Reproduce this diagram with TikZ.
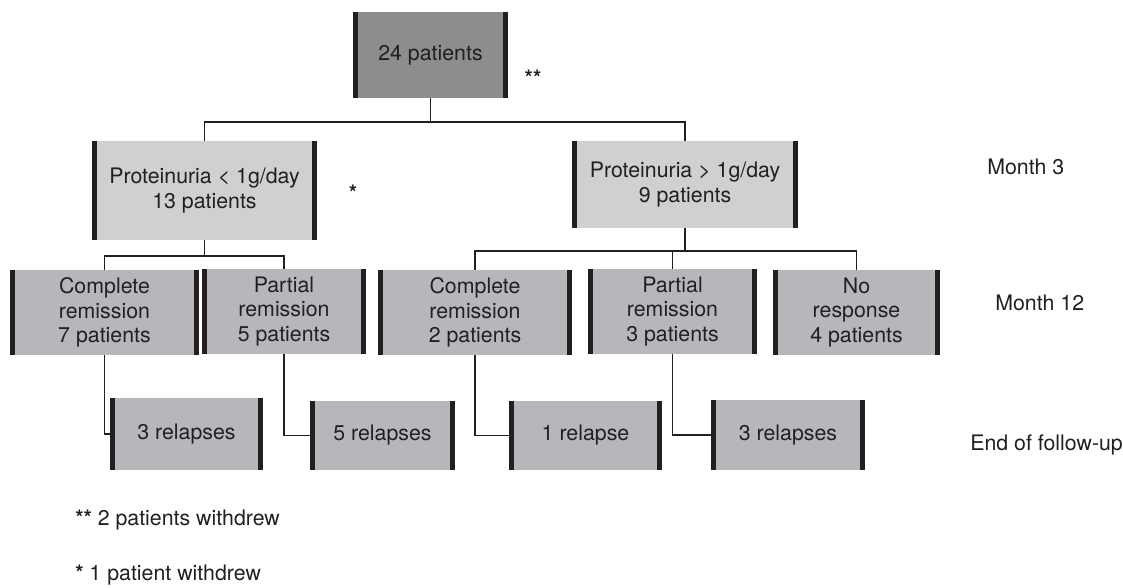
\documentclass[tikz,border=0pt]{standalone}
\usepackage{fontspec}
\setmainfont{TeX Gyre Heros}
\usepackage{tikz}
\definecolor{ink}{RGB}{35, 31, 32}
\definecolor{darkbox}{RGB}{140, 141, 143}
\definecolor{lightbox}{RGB}{207, 208, 210}
\definecolor{midbox}{RGB}{182, 183, 186}

\begin{document}
\begin{tikzpicture}[x=0.75pt, y=-0.75pt,
    box/.style={fill=#1, inner sep=0pt, align=center, text=ink, font=\fontsize{16}{18.5}\selectfont},
    link/.style={draw=ink, line width=1.1pt},
    bar/.style={draw=ink, line width=3.75pt},
    lbl/.style={text=ink, inner sep=0pt, font=\fontsize{16}{18.5}\selectfont}]
    \useasboundingbox (0,0) rectangle (1123,587);

    % Baseline
    \node[box=darkbox, minimum width=116.25pt, minimum height=64.5pt] (top) at (430.5,55) {24 patients};
    \node[lbl, font=\fontsize{16}{18.5}\selectfont\bfseries] (star2) at (533,78) {**};

    % Month 3
    \node[box=lightbox, minimum width=168.75pt, minimum height=74.25pt] (pl) at (204.5,190.5) {Proteinuria \textless{} 1g/day\\13 patients};
    \node[box=lightbox, minimum width=169.5pt, minimum height=65.25pt] (pg) at (685,184.5) {Proteinuria \textgreater{} 1g/day\\9 patients};
    \node[lbl, font=\fontsize{16}{18.5}\selectfont\bfseries] (star1) at (353,193) {*};

    % Month 12
    \node[box=midbox, minimum width=141.75pt, minimum height=63.75pt] (cr7) at (104.5,312.5) {Complete\\remission\\7 patients};
    \node[box=midbox, minimum width=123pt, minimum height=63.75pt] (pr5) at (284,311.5) {Partial\\remission\\5 patients};
    \node[box=midbox, minimum width=145.5pt, minimum height=63.75pt] (cr2) at (475,312.5) {Complete\\remission\\2 patients};
    \node[box=midbox, minimum width=126.75pt, minimum height=63.75pt] (pr3) at (672.5,311.5) {Partial\\remission\\3 patients};
    \node[box=midbox, minimum width=125.25pt, minimum height=63.75pt] (nr4) at (856.5,312.5) {No\\response\\4 patients};

    % End of follow-up
    \node[box=midbox, minimum width=114.75pt, minimum height=54pt] (r3a) at (186.5,434) {3 relapses};
    \node[box=midbox, minimum width=108.75pt, minimum height=51.75pt] (r5) at (382.5,435.5) {5 relapses};
    \node[box=midbox, minimum width=114.75pt, minimum height=51.75pt] (r1) at (585.5,435.5) {1 relapse};
    \node[box=midbox, minimum width=115.5pt, minimum height=52.5pt] (r3b) at (788,435) {3 relapses};

    % Time points
    \node[lbl, anchor=west] (m3) at (987,167) {Month 3};
    \node[lbl, anchor=west] (m12) at (995,303) {Month 12};
    \node[lbl, anchor=west] (fu) at (970,445) {End of follow-up};

    % Footnotes
    \node[lbl, anchor=west] (note2) at (75,520) {\textbf{**} 2 patients withdrew};
    \node[lbl, anchor=west] (note1) at (75,575) {\textbf{*} 1 patient withdrew};

    % Connectors
    \coordinate (j0) at (430.5,122);
    \draw[link] (top.south) -- (j0);
    \draw[link] (pl.north) |- (j0) -| (pg.north);

    \coordinate (j1) at (204.5,256);
    \draw[link] (pl.south) -- (j1);
    \draw[link] (cr7.north) |- (j1) -| (pr5.north);

    \coordinate (j2) at (685,251);
    \draw[link] (pg.south) -- (j2);
    \draw[link] (cr2.north) |- (j2) -| (nr4.north);
    \draw[link] (pr3.north |- j2) -- (pr3.north);

    \draw[link] (cr7.south) |- (r3a.west);
    \draw[link] (pr5.south) |- (r5.west);
    \draw[link] (cr2.south) |- (r1.west);
    \draw[link] (pr3.south) |- (r3b.west);

    % Side bars
    \foreach \n in {top,pl,pg,cr7,pr5,cr2,pr3,nr4,r3a,r5,r1,r3b}
        \draw[bar] ([xshift=1.875pt]\n.north west) -- ([xshift=1.875pt]\n.south west)
                   ([xshift=-1.875pt]\n.north east) -- ([xshift=-1.875pt]\n.south east);
\end{tikzpicture}
\end{document}
